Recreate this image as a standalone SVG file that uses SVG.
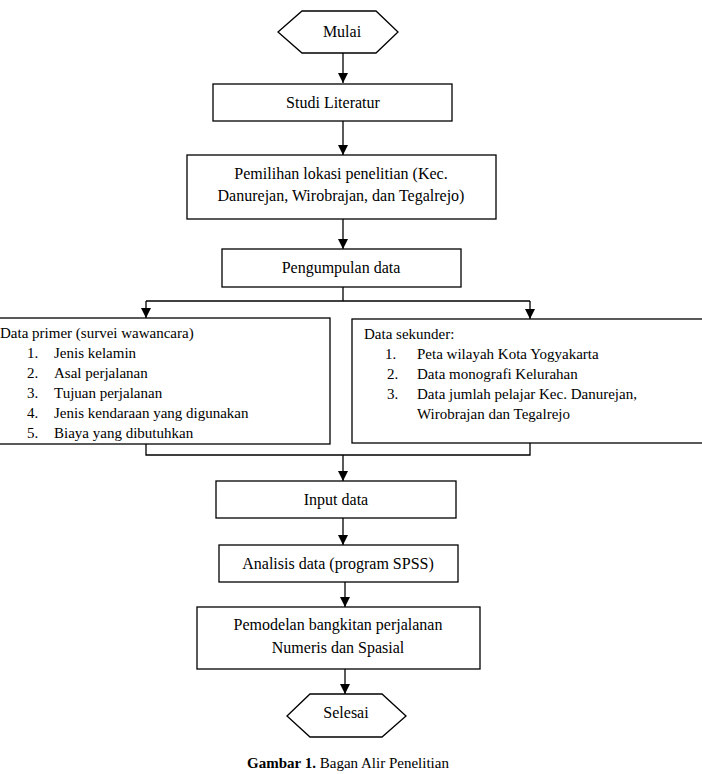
<svg xmlns="http://www.w3.org/2000/svg" width="702" height="774" viewBox="0 0 702 774">
<style>
.box{fill:#fff;stroke:#000;stroke-width:1.3}
.ln{fill:none;stroke:#000;stroke-width:1.3}
.t{font-family:"Liberation Serif","Times New Roman",serif;font-size:16px;fill:#000}
.s{font-family:"Liberation Serif","Times New Roman",serif;font-size:15px;fill:#000}
.c{text-anchor:middle}
</style>
<defs>
<marker id="ah" viewBox="0 0 10 10" refX="10" refY="5" markerWidth="10" markerHeight="10" markerUnits="userSpaceOnUse" orient="auto">
<path d="M0,0 L10,5 L0,10 z" fill="#000"/>
</marker>
<clipPath id="cp"><rect x="0" y="318" width="330" height="123"/></clipPath>
</defs>
<g id="connectors">
<line class="ln" x1="343" y1="53" x2="343" y2="83" marker-end="url(#ah)"/>
<line class="ln" x1="343" y1="121" x2="343" y2="155" marker-end="url(#ah)"/>
<line class="ln" x1="343" y1="219" x2="343" y2="249" marker-end="url(#ah)"/>
<polyline class="ln" points="343,287 343,301"/>
<polyline class="ln" points="146,301 530,301"/>
<line class="ln" x1="146" y1="301" x2="146" y2="318" marker-end="url(#ah)"/>
<line class="ln" x1="530" y1="301" x2="530" y2="319" marker-end="url(#ah)"/>
<polyline class="ln" points="146,444 146,455 530,455 530,443"/>
<line class="ln" x1="343" y1="455" x2="343" y2="481" marker-end="url(#ah)"/>
<line class="ln" x1="343" y1="518" x2="343" y2="545" marker-end="url(#ah)"/>
<line class="ln" x1="345" y1="582" x2="345" y2="607" marker-end="url(#ah)"/>
<line class="ln" x1="345" y1="669" x2="345" y2="694" marker-end="url(#ah)"/>
</g>
<g id="mulai">
<polygon class="box" points="278,32 302,11 376,11 398,32 376,53 302,53"/>
<text class="t c" x="342" y="37">Mulai</text>
</g>
<g id="studi">
<rect class="box" x="213" y="84" width="239" height="37"/>
<text class="t c" x="333" y="108">Studi Literatur</text>
</g>
<g id="pemilihan">
<rect class="box" x="187" y="155" width="309" height="64"/>
<text class="t c" x="341" y="179">Pemilihan lokasi penelitian (Kec.</text>
<text class="t c" x="341" y="201">Danurejan, Wirobrajan, dan Tegalrejo)</text>
</g>
<g id="pengumpulan">
<rect class="box" x="222" y="249" width="239" height="38"/>
<text class="t c" x="341" y="273">Pengumpulan data</text>
</g>
<g id="primer">
<rect class="box" x="-2" y="318" width="332" height="126"/>
<g clip-path="url(#cp)">
<text class="s" x="0" y="338">Data primer (survei wawancara)</text>
<text class="s" x="27" y="358">1.</text><text class="s" x="54" y="358">Jenis kelamin</text>
<text class="s" x="27" y="378">2.</text><text class="s" x="54" y="378">Asal perjalanan</text>
<text class="s" x="27" y="398">3.</text><text class="s" x="54" y="398">Tujuan perjalanan</text>
<text class="s" x="27" y="418">4.</text><text class="s" x="54" y="418">Jenis kendaraan yang digunakan</text>
<text class="s" x="27" y="438">5.</text><text class="s" x="54" y="438">Biaya yang dibutuhkan</text>
</g>
</g>
<g id="sekunder">
<rect class="box" x="352" y="319" width="352" height="124"/>
<text class="s" x="364" y="339">Data sekunder:</text>
<text class="s" x="385" y="359">1.</text><text class="s" x="417" y="359">Peta wilayah Kota Yogyakarta</text>
<text class="s" x="387" y="379">2.</text><text class="s" x="417" y="379">Data monografi Kelurahan</text>
<text class="s" x="387" y="399">3.</text><text class="s" x="417" y="399">Data jumlah pelajar Kec. Danurejan,</text>
<text class="s" x="417" y="419">Wirobrajan dan Tegalrejo</text>
</g>
<g id="input">
<rect class="box" x="216" y="481" width="240" height="37"/>
<text class="t c" x="336" y="505">Input data</text>
</g>
<g id="analisis">
<rect class="box" x="219" y="545" width="239" height="37"/>
<text class="t c" x="338" y="569">Analisis data (program SPSS)</text>
</g>
<g id="pemodelan">
<rect class="box" x="197" y="607" width="283" height="62"/>
<text class="t c" x="338" y="630">Pemodelan bangkitan perjalanan</text>
<text class="t c" x="338" y="653">Numeris dan Spasial</text>
</g>
<g id="selesai">
<polygon class="box" points="287,716 310,694 382,694 406,716 382,737 310,737"/>
<text class="t c" x="346" y="718">Selesai</text>
</g>
<text class="s c" x="348" y="768"><tspan font-weight="bold">Gambar 1.</tspan> Bagan Alir Penelitian</text>
</svg>
